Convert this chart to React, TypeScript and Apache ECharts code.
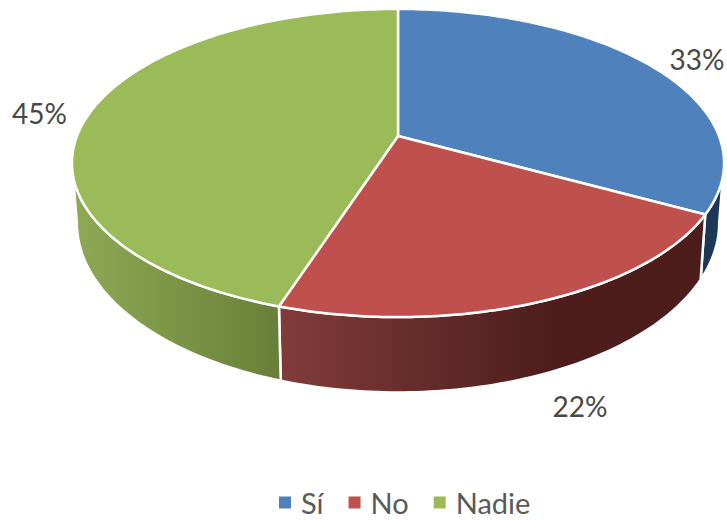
import React, { useEffect, useRef } from "react";
import * as echarts from "echarts";

const categories = ["Sí", "No", "Nadie"];
const values = [33, 22, 45];
const topColors = ["#4f81bd", "#c0504d", "#9bbb59"];

const FONT = "Lato, 'Open Sans', sans-serif";
const CX = 398, CY = 136;
const A = 321, B = 149.3, PERSPECTIVE = 0.1753;
const VISIBLE_FROM = 100, VISIBLE_TO = 260;
const LABEL_POS = [[697, 59], [580, 406], [39.5, 113]];

const rad = (d: number) => (d * Math.PI) / 180;
function rim(deg: number): [number, number] {
  const u = Math.sin(rad(deg));
  const v = -Math.cos(rad(deg));
  const w = 1 - PERSPECTIVE * v;
  return [CX + (A * u) / w, CY + (B * v) / w];
}
function lower(deg: number): [number, number] {
  const [x, y] = rim(deg);
  return [CX + (x - CX) * 0.985, y + 60 + (y - 163) * 0.1];
}
function arc(from: number, to: number, f: (d: number) => [number, number]) {
  const n = Math.max(2, Math.ceil(Math.abs(to - from)));
  const pts: [number, number][] = [];
  for (let i = 0; i <= n; i++) pts.push(f(from + ((to - from) * i) / n));
  return pts;
}
function sideFill(i: number, x0: number, x1: number) {
  const G = echarts.graphic.LinearGradient as any;
  const stops = [
    [{ offset: 0, color: "#1d3757" }, { offset: 1, color: "#1d3757" }],
    [{ offset: 0, color: "#803c3a" }, { offset: 0.65, color: "#4c1d1b" }, { offset: 1, color: "#4c1d1b" }],
    [{ offset: 0, color: "#8fa955" }, { offset: 1, color: "#697f39" }],
  ][i];
  return new G(x0, 0, x1, 0, stops, true);
}

function renderSlice(index: number) {
  return (_params: any, api: any) => {
    const total = values.reduce((a, b) => a + b, 0);
    const before = values.slice(0, index).reduce((a, b) => a + b, 0);
    const start = (before / total) * 360;
    const end = start + (api.value(0) / total) * 360;
    const children: any[] = [];
    const s0 = Math.max(start, VISIBLE_FROM);
    const s1 = Math.min(end, VISIBLE_TO);
    if (s1 > s0) {
      const top = arc(s0, s1, rim);
      const bottom = arc(s1, s0, lower);
      const xs = [...top, ...bottom].map((p) => p[0]);
      children.push({
        type: "polygon",
        shape: { points: [...top, ...bottom] },
        style: {
          fill: sideFill(index, Math.min(...xs), Math.max(...xs)),
          stroke: "#ffffff",
          lineWidth: 2.5,
          lineJoin: "round",
        },
      });
    }
    children.push({
      type: "polygon",
      shape: { points: [[CX, CY], ...arc(start, end, rim)] },
      style: { fill: topColors[index], stroke: "#ffffff", lineWidth: 2.5, lineJoin: "round" },
    });
    children.push({
      type: "text",
      style: {
        text: `${api.value(0)}%`,
        x: LABEL_POS[index][0],
        y: LABEL_POS[index][1],
        font: `28px ${FONT}`,
        fill: "#474747",
        textAlign: "center",
        textVerticalAlign: "middle",
      },
    });
    return { type: "group", children };
  };
}

export default function App() {
  const ref = useRef<HTMLDivElement>(null);
  useEffect(() => {
    const chart = echarts.init(ref.current!, undefined, { renderer: "svg" });
    chart.setOption({
      animation: false,
      backgroundColor: "#ffffff",
      legend: {
        data: categories,
        left: 279,
        top: 488,
        icon: "rect",
        itemWidth: 12,
        itemHeight: 12,
        itemGap: 25,
        padding: 0,
        textStyle: { fontFamily: FONT, fontSize: 29, color: "#595959", padding: [0, 0, 0, 5] },
      },
      series: categories.map((name, i) => ({
        type: "custom",
        name,
        coordinateSystem: "none",
        itemStyle: { color: topColors[i] },
        data: [[values[i]]],
        renderItem: renderSlice(i),
      })),
    });
    return () => chart.dispose();
  }, []);
  return <div ref={ref} style={{ position: "fixed", left: 0, top: 0, width: 727, height: 520 }} />;
}
